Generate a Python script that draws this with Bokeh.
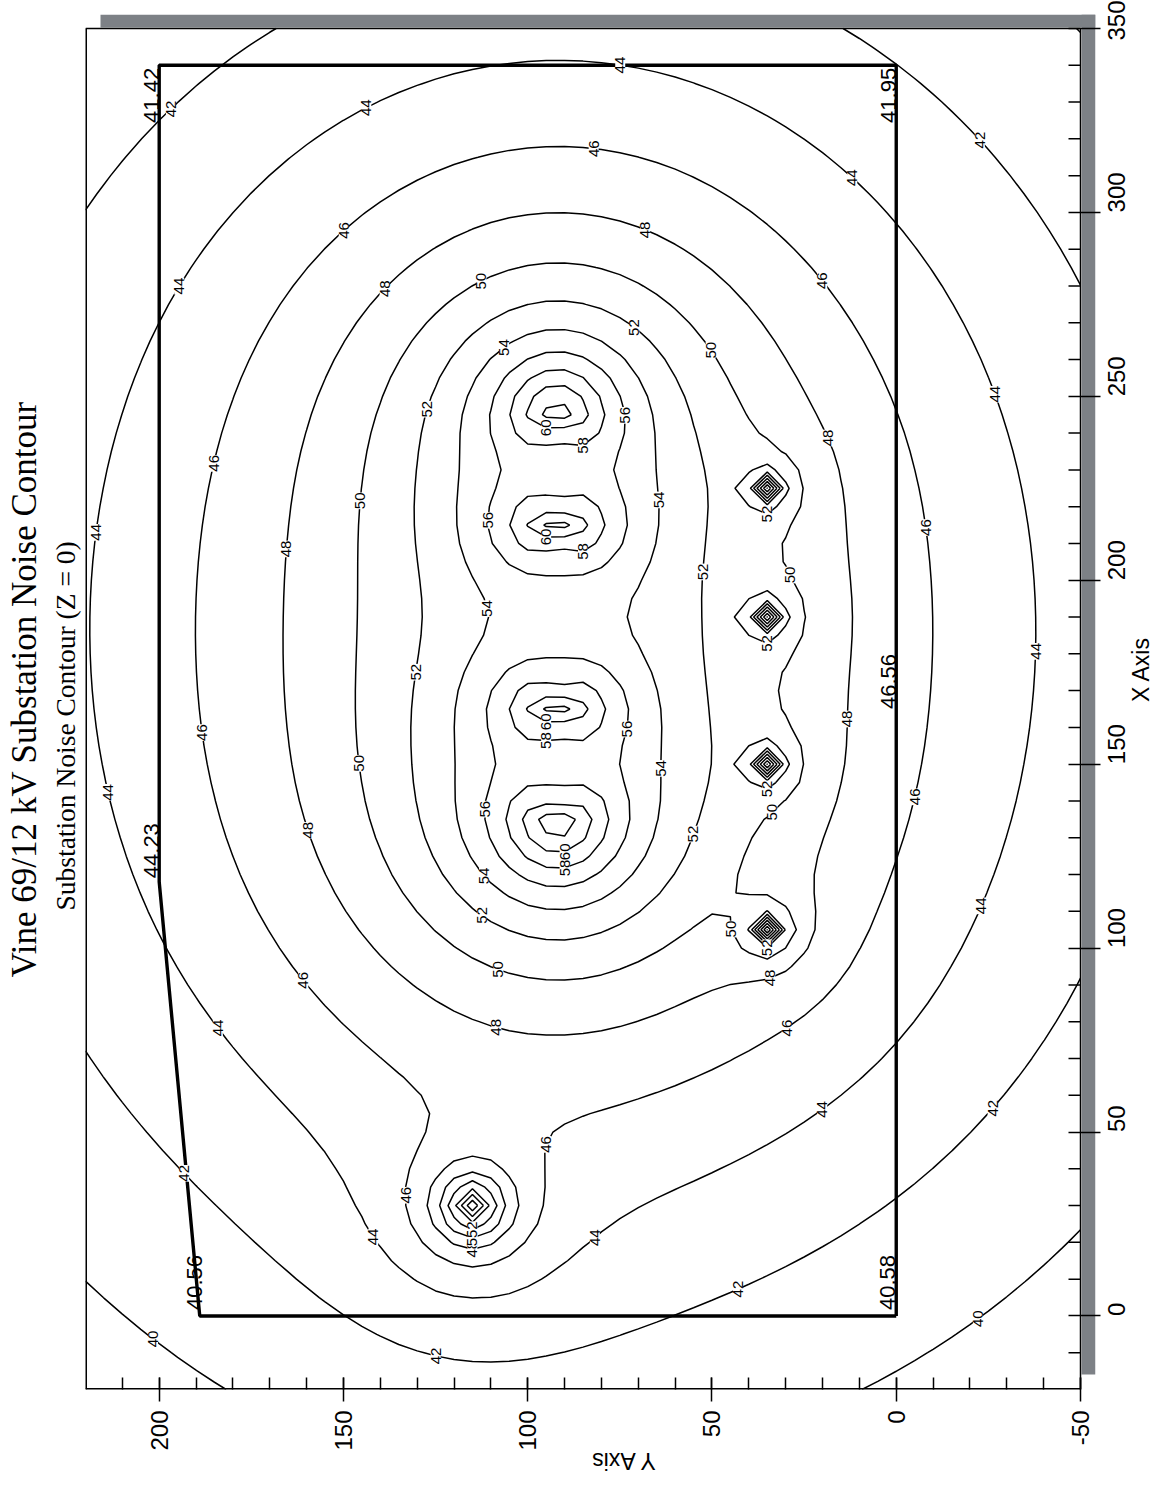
import math
import numpy as np
import contourpy
from bokeh.plotting import figure
from bokeh.models import Range1d, FixedTicker, Title, ColumnDataSource
from bokeh.core.properties import value
from bokeh.embed import file_html
from bokeh.resources import INLINE

# ---------------- data ----------------
title_text = "Vine 69/12 kV Substation Noise Contour"
subtitle_text = "Substation Noise Contour (Z = 0)"
x_axis_title = "X Axis"
y_axis_title = "Y Axis"

# main transformers (site X, site Y, sound level at 1 unit in dB)
tx_X = [135, 165, 215, 245]
tx_Y = [92, 92, 92, 92]
tx_L = [81.3, 80.5, 80.5, 80.8]
# side screened by a neighbouring transformer (+X side, -X side)
tx_screen_up = [1, 1, 1, 0]
tx_screen_down = [0, 1, 1, 1]
# smaller equipment sources
aux_X = [105, 150, 190, 225, 30]
aux_Y = [35, 35, 35, 35, 115]
aux_L = [64.0, 64.0, 64.0, 64.0, 68.0]
aux_core = [1.0, 1.0, 1.0, 1.0, 2.6]

contour_levels = [40, 42, 44, 46, 48, 50, 52, 54, 56, 58, 60, 62, 64]

# property boundary
prop_X = [0, 340, 340, 118, 0, 0]
prop_Y = [0, 0, 200, 200, 189, 0]

# boundary point values
pt_text_end = ["41.42", "41.95"]
pt_X_end = [339.3, 339.3]
pt_Y_end = [202.0, 2.2]
pt_text_start = ["40.56", "40.58", "44.23", "46.56"]
pt_X_start = [1.6, 1.6, 119.0, 165.0]
pt_Y_start = [190.5, 2.4, 202.0, 2.2]

x_ticks = [0, 50, 100, 150, 200, 250, 300, 350]
x_minor = list(range(-10, 351, 10))
y_ticks = [-50, 0, 50, 100, 150, 200]
y_minor = list(range(-50, 220, 10))

# plot area extents (site units)
X_MIN, X_MAX = -20, 350
Y_MIN, Y_MAX = -50, 220

# ---------------- field on a coarse grid ----------------
gx = np.arange(X_MIN, X_MAX + 0.1, 5.0)
gy = np.arange(Y_MIN, Y_MAX + 0.1, 5.0)
GX, GY = np.meshgrid(gx, gy, indexing="ij")
energy = np.zeros_like(GX)
TX_CORE, TX_SHIELD, TX_RANGE, ALPHA = 8.0, 5.0, 20.0, 0.0025
for X0, Y0, L, su, sd in zip(tx_X, tx_Y, tx_L, tx_screen_up, tx_screen_down):
    dX = GX - X0
    dY = GY - Y0
    r2 = dX ** 2 + dY ** 2
    r = np.sqrt(r2)
    ang = np.where(r2 > 0, dX ** 2 / np.maximum(r2, 1e-9), 0.0)
    side = np.where(dX > 0, su, sd)
    lev = (L - 10 * np.log10(r2 + TX_CORE ** 2)
           - TX_SHIELD * side * ang * np.exp(-r / TX_RANGE) - ALPHA * r)
    energy += 10 ** (lev / 10)
for X0, Y0, L, a in zip(aux_X, aux_Y, aux_L, aux_core):
    r2 = (GX - X0) ** 2 + (GY - Y0) ** 2
    lev = L - 10 * np.log10(r2 + a ** 2) - ALPHA * np.sqrt(r2)
    energy += 10 ** (lev / 10)
Z = 10 * np.log10(energy)

gen = contourpy.contour_generator(x=gy, y=gx, z=Z, line_type="Separate")

# ---------------- figure geometry ----------------
W, H = 1170, 1492
F_LEFT, F_RIGHT, F_TOP, F_BOTTOM = 85, 1095, 14, 1389   # frame incl. scan shadow strip
PX_Y = 995.0 / (Y_MAX - Y_MIN)
PX_X = 1361.0 / (X_MAX - X_MIN)
y_lo = Y_MIN - (F_RIGHT - 1080) / PX_Y
x_hi = X_MAX + (28 - F_TOP) / PX_X

SPACING = 260.0
xs, ys = [], []
lab_x, lab_y, lab_t = [], [], []
for lev in contour_levels:
    for line in gen.lines(lev):
        if len(line) < 2:
            continue
        xs.append(line[:, 0].tolist())
        ys.append(line[:, 1].tolist())
        sx = line[:, 0] * PX_Y
        sy = line[:, 1] * PX_X
        seg = np.hypot(np.diff(sx), np.diff(sy))
        cum = np.concatenate([[0.0], np.cumsum(seg)])
        total = cum[-1]
        closed = np.allclose(line[0], line[-1])
        if total < 100:
            continue
        if closed and total < 520:
            i = int(np.argmin(line[:, 1]))
            lab_x.append(float(line[i, 0])); lab_y.append(float(line[i, 1]))
            lab_t.append(str(lev))
            continue
        n = max(1, int(total // SPACING))
        for k in range(n):
            d = (k + 0.5) * total / n
            lab_x.append(float(np.interp(d, cum, line[:, 0])))
            lab_y.append(float(np.interp(d, cum, line[:, 1])))
            lab_t.append(str(lev))

p = figure(width=W, height=H, x_range=Range1d(Y_MAX, y_lo), y_range=Range1d(X_MIN, x_hi),
           output_backend="svg", toolbar_location=None, title=None,
           x_axis_location="below", y_axis_location="right",
           min_border_left=F_LEFT, min_border_right=W - F_RIGHT,
           min_border_top=F_TOP, min_border_bottom=H - F_BOTTOM)
p.xgrid.visible = False
p.ygrid.visible = False
p.outline_line_color = None
p.background_fill_color = "white"
p.border_fill_color = "white"

# scan shadow strips along the top and right edges
shade = "#7d8186"
p.quad(left=[Y_MAX - 15 / PX_Y, Y_MIN - 0.3], right=[y_lo, y_lo],
       bottom=[X_MAX + 0.3, X_MIN + 15 / PX_X], top=[x_hi, x_hi],
       fill_color=shade, line_color=None)

# plot frame
p.multi_line(xs=[[Y_MAX, Y_MAX], [Y_MAX, Y_MIN], [Y_MAX, Y_MIN], [Y_MIN, Y_MIN]],
             ys=[[X_MIN, X_MAX], [X_MIN, X_MIN], [X_MAX, X_MAX], [X_MIN, X_MAX]],
             line_color="black", line_width=[3.0, 3.0, 1.5, 1.5])
# inner minor ticks of the X axis (right side)
minor_only = [v for v in x_minor if v not in x_ticks]
p.segment(x0=[Y_MIN + 12 / PX_Y] * len(minor_only), y0=minor_only,
          x1=[Y_MIN] * len(minor_only), y1=minor_only, line_color="black", line_width=1.5)

p.multi_line(xs, ys, line_color="black", line_width=1.5)
p.line(prop_Y, prop_X, line_color="black", line_width=3.4)

src = ColumnDataSource(dict(x=lab_x, y=lab_y, t=lab_t))
p.text(x="x", y="y", text="t", source=src, angle=math.pi / 2,
       text_font=value("Liberation Sans"), text_font_size="15px", text_color="black",
       text_align="center", text_baseline="middle", background_fill_color="white")

p.text(x=pt_Y_end, y=pt_X_end, text=pt_text_end, angle=math.pi / 2,
       text_font=value("Liberation Sans"), text_font_size="22px", text_color="black",
       text_align="right", text_baseline="alphabetic")
p.text(x=pt_Y_start, y=pt_X_start, text=pt_text_start, angle=math.pi / 2,
       text_font=value("Liberation Sans"), text_font_size="22px", text_color="black",
       text_align="left", text_baseline="alphabetic")

xa = p.xaxis[0]
ya = p.yaxis[0]
xa.ticker = FixedTicker(ticks=y_ticks, minor_ticks=y_minor)
ya.ticker = FixedTicker(ticks=x_ticks, minor_ticks=[])
xa.major_label_overrides = {v: str(v) for v in y_ticks}
ya.major_label_overrides = {v: str(v) for v in x_ticks}
for ax in (xa, ya):
    ax.major_tick_line_color = "black"
    ax.major_tick_line_width = 1.5
    ax.minor_tick_line_color = "black"
    ax.minor_tick_line_width = 1.5
    ax.major_label_orientation = math.pi / 2
    ax.major_label_text_font = "Liberation Sans"
    ax.major_label_text_font_size = "24px"
    ax.major_label_text_color = "black"
    ax.axis_label_text_font = "Liberation Sans"
    ax.axis_label_text_font_size = "23px"
    ax.axis_label_text_font_style = "normal"
    ax.axis_label_text_color = "black"
# Y axis (along the bottom)
xa.axis_line_color = None
xa.major_tick_in = 12
xa.major_tick_out = 12
xa.minor_tick_in = 12
xa.minor_tick_out = 0
xa.major_label_standoff = 9
xa.axis_label = y_axis_title
xa.axis_label_standoff = 7
# X axis (along the right)
ya.axis_line_color = None
ya.major_tick_in = 27
ya.major_tick_out = 5
ya.minor_tick_in = 0
ya.minor_tick_out = 0
ya.major_label_standoff = 16
ya.axis_label = x_axis_title
ya.axis_label_standoff = 4
try:
    xa.axis_label_orientation = math.pi
    ya.axis_label_orientation = math.pi / 2
except Exception:
    pass

sub = Title(text=subtitle_text, text_font="Liberation Serif", text_font_size="27.5px",
            text_font_style="normal", text_color="black", align="left",
            standoff=9, offset=F_BOTTOM - 910)
main = Title(text=title_text, text_font="Liberation Serif", text_font_size="35px",
             text_font_style="normal", text_color="black", align="left",
             standoff=0, offset=F_BOTTOM - 977)
try:
    sub.text_line_height = 0.8
except Exception:
    sub.standoff = 13
p.add_layout(sub, "left")
p.add_layout(main, "left")

open("out.html", "w").write(file_html(p, INLINE))
